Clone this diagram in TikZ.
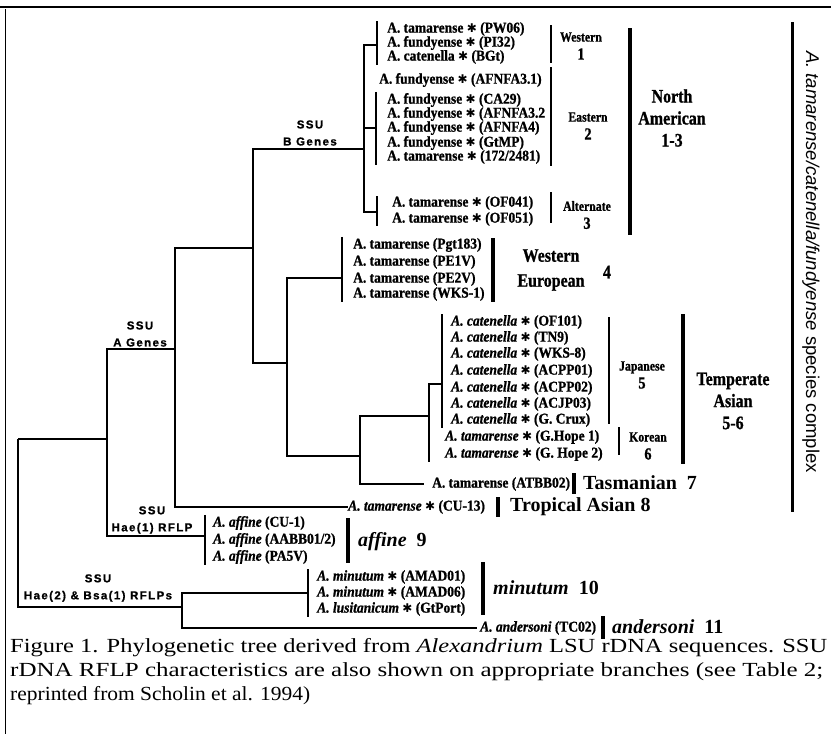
\documentclass[tikz,border=0pt]{standalone}
\usepackage{fontspec}
\setmainfont{Liberation Serif}
\setsansfont{Liberation Sans}
\newfontfamily\symfont{DejaVu Sans}
\newfontfamily\cfont[FakeStretch=0.84,FakeBold=1]{Liberation Serif}
\newfontfamily\lfont[FakeStretch=0.9,FakeBold=1]{Liberation Serif}
\newfontfamily\ssufont[LetterSpace=12,FakeBold=1]{Liberation Sans}
\newcommand{\sst}{{\symfont\bfseries\fontsize{12}{12}\selectfont ✱}}
\usetikzlibrary{positioning}

\tikzset{
  leaf/.style={anchor=west, inner sep=0pt, font=\lfont\bfseries\fontsize{15}{15}\selectfont},
  branch/.style={line width=1.5pt},
  thinbar/.style={line width=1.4pt},
  thickbar/.style={line width=3.5pt},
  fatbar/.style={line width=4.5pt},
  ssu/.style={inner sep=0pt, align=center, font=\ssufont\bfseries\fontsize{11.5}{17}\selectfont},
  grp/.style={inner sep=0pt, align=center, font=\cfont\bfseries\fontsize{14}{18}\selectfont},
  region/.style={inner sep=0pt, align=center, font=\cfont\bfseries\fontsize{19}{22}\selectfont},
  big/.style={inner sep=0pt, anchor=west, font=\fontsize{20}{22}\selectfont\bfseries},
  captext/.style={inner sep=0pt, anchor=west, font=\fontsize{20}{24}\selectfont},
}

\begin{document}
\begin{tikzpicture}[x=1pt,y=-1pt]
  \useasboundingbox (0,0) rectangle (831,734);

  % page frame
  \draw[line width=2.5pt] (0,7) -- (831,7);
  \draw[line width=0.6pt] (5,9) -- (5,734);

  % inner nodes (x of vertical, y of incoming branch)
  \coordinate (R)  at (18,439);
  \coordinate (A1) at (107,439);
  \coordinate (A2) at (175,349);
  \coordinate (B0) at (253,248);
  \coordinate (B)  at (364,149);
  \coordinate (W)  at (377,45);
  \coordinate (E)  at (376,128);
  \coordinate (Al) at (377,212);
  \coordinate (WT) at (287,363);
  \coordinate (WE) at (342,278);
  \coordinate (T)  at (360,456);
  \coordinate (JK) at (429,416);
  \coordinate (J)  at (442,384);
  \coordinate (AF) at (205,536);
  \coordinate (H2) at (182,607);
  \coordinate (M)  at (308,593);

  % leaves
  \node[leaf] (w1) at (387,29) {A. tamarense \sst{} (PW06)};
  \node[leaf] (w2) at (387,43) {A. fundyense \sst{} (PI32)};
  \node[leaf] (w3) at (387,57) {A. catenella \sst{} (BGt)};
  \node[leaf] (e0) at (379,80) {A. fundyense \sst{} (AFNFA3.1)};
  \node[leaf] (e1) at (387,100) {A. fundyense \sst{} (CA29)};
  \node[leaf] (e2) at (387,114) {A. fundyense \sst{} (AFNFA3.2};
  \node[leaf] (e3) at (387,128) {A. fundyense \sst{} (AFNFA4)};
  \node[leaf] (e4) at (387,143) {A. fundyense \sst{} (GtMP)};
  \node[leaf] (e5) at (387,157) {A. tamarense \sst{} (172/2481)};
  \node[leaf] (a1) at (392,203) {A. tamarense \sst{} (OF041)};
  \node[leaf] (a2) at (392,219) {A. tamarense \sst{} (OF051)};
  \node[leaf] (p1) at (353,245) {A. tamarense (Pgt183)};
  \node[leaf] (p2) at (353,262) {A. tamarense (PE1V)};
  \node[leaf] (p3) at (353,279) {A. tamarense (PE2V)};
  \node[leaf] (p4) at (353,294) {A. tamarense (WKS-1)};
  \node[leaf] (j1) at (451,322) {\textit{A. catenella} \sst{} (OF101)};
  \node[leaf] (j2) at (451,338) {\textit{A. catenella} \sst{} (TN9)};
  \node[leaf] (j3) at (451,354) {\textit{A. catenella} \sst{} (WKS-8)};
  \node[leaf] (j4) at (451,371) {\textit{A. catenella} \sst{} (ACPP01)};
  \node[leaf] (j5) at (451,388) {\textit{A. catenella} \sst{} (ACPP02)};
  \node[leaf] (j6) at (451,404) {\textit{A. catenella} \sst{} (ACJP03)};
  \node[leaf] (j7) at (451,420) {\textit{A. catenella} \sst{} (G. Crux)};
  \node[leaf] (k1) at (445,437) {\textit{A. tamarense} \sst{} (G.Hope 1)};
  \node[leaf] (k2) at (445,454) {\textit{A. tamarense} \sst{} (G. Hope 2)};
  \node[leaf] (tb) at (432,484) {A. tamarense (ATBB02)};
  \node[leaf] (cu) at (348,507) {\textit{A. tamarense} \sst{} (CU-13)};
  \node[leaf] (f1) at (213,523) {\textit{A. affine} (CU-1)};
  \node[leaf] (f2) at (213,540) {\textit{A. affine} (AABB01/2)};
  \node[leaf] (f3) at (213,557) {\textit{A. affine} (PA5V)};
  \node[leaf] (m1) at (317,577) {\textit{A. minutum} \sst{} (AMAD01)};
  \node[leaf] (m2) at (317,593) {\textit{A. minutum} \sst{} (AMAD06)};
  \node[leaf] (m3) at (317,609) {\textit{A. lusitanicum} \sst{} (GtPort)};
  \node[leaf] (an) at (480,628) {\textit{A. andersoni} (TC02)};

  % branches
  \draw[branch] (R) -- (A1);
  \draw[branch] (R) |- (H2);
  \draw[branch] (A1) |- (A2);
  \draw[branch] (A1) |- (AF);
  \draw[branch] (A2) |- (B0);
  \draw[branch] (A2) |- (cu.west);
  \draw[branch] (B0) |- (B);
  \draw[branch] (B0) |- (WT);
  \draw[branch] (B) |- (W);
  \draw[branch] (B) |- (E);
  \draw[branch] (B) |- (Al);
  \draw[branch] (WT) |- (WE);
  \draw[branch] (WT) |- (T);
  \draw[branch] (T) |- (JK);
  \draw[branch] (T) |- ([xshift=-8pt]tb.west);
  \draw[branch] (JK) |- (J);
  \draw[branch] (H2) |- (M);
  \draw[branch] (H2) |- ([xshift=-3pt]an.west);

  % leaf bars
  \draw[branch] ([yshift=1pt]W |- w1.north) -- ([yshift=-1pt]W |- w3.south);
  \draw[branch] ([yshift=1pt]E |- e1.north) -- ([yshift=-1pt]E |- e5.south);
  \draw[branch] (Al |- a1.north) -- (Al |- a2.south);
  \draw[branch] ([yshift=1pt]WE |- p1.north) -- ([yshift=-1pt]WE |- p4.south);
  \draw[branch] ([yshift=1pt]J |- j1.north) -- ([yshift=-1pt]J |- j7.south);
  \draw[branch] (J -| JK) -- ([yshift=-1pt]JK |- k2.south);
  \draw[branch] ([yshift=1pt]AF |- f1.north) -- ([yshift=-1pt]AF |- f3.south);
  \draw[branch] ([yshift=1pt]M |- m1.north) -- ([yshift=-1pt]M |- m3.south);

  % restriction site labels
  \node[ssu] (sB) at (310,133) {SSU\\B Genes};
  \node[ssu] (sA) at (140,334) {SSU\\A Genes};
  \node[ssu] (sH1) at (152,520) {SSU\\Hae(1) RFLP};
  \node[ssu] (sH2) at (98,588) {SSU\\Hae(2) \& Bsa(1) RFLPs};

  % group brackets
  \draw[thinbar] (551,25) -- (551,63);
  \draw[thinbar] (551,67) -- (551,166);
  \draw[thinbar] (551,192) -- (551,223);
  \draw[thickbar] (630,28) -- (630,235);
  \draw[thickbar] (493,238) -- (493,302);
  \draw[thinbar] (609,317) -- (609,424);
  \draw[thinbar] (619,427) -- (619,455);
  \draw[thickbar] (683,314) -- (683,464);
  \draw[fatbar] (574,473) -- (574,494);
  \draw[fatbar] (498,497) -- (498,517);
  \draw[fatbar] (348,518) -- (348,563);
  \draw[fatbar] (483,562) -- (483,615);
  \draw[fatbar] (603,616) -- (603,639);
  \draw[line width=3pt] (792,22) -- (792,512);

  % group names
  \node[grp] (gW) at (581,46) {Western\\\fontsize{17}{17}\selectfont 1};
  \node[grp] (gE) at (588,126) {Eastern\\\fontsize{17}{17}\selectfont 2};
  \node[grp] (gA) at (587,215) {Alternate\\\fontsize{17}{17}\selectfont 3};
  \node[region] (gNA) at (672,118) {North\\American\\1-3};
  \node[region] (gWE) at (551,270) {Western\\[3pt]European};
  \node[region] (g4) at (607,272) {4};
  \node[grp] (gJ) at (642,375) {Japanese\\\fontsize{17}{17}\selectfont 5};
  \node[grp] (gK) at (648,446) {Korean\\\fontsize{17}{17}\selectfont 6};
  \node[region] (gTA) at (733,401) {Temperate\\Asian\\5-6};
  \node[big] (gT) at (583,483) {Tasmanian~~7};
  \node[big] (gTr) at (510,507) {Tropical Asian~8};
  \node[big] (gaf) at (358,542) {\textit{affine}~~9};
  \node[big] (gmi) at (493,588) {\textit{minutum}~~10};
  \node[big] (gan) at (612,627) {\textit{andersoni}~~11};
  \node[rotate=-90, inner sep=0pt, font=\sffamily\fontsize{18.5}{20}\selectfont] (gSC) at (811,262)
    {\textit{A. tamarense/catenella/fundyense} species complex};

  % caption
  \node[captext] (c1) at (10,648) {\resizebox{817pt}{\height}{Figure 1. Phylogenetic tree derived from \textit{Alexandrium} LSU rDNA sequences. SSU}};
  \node[captext] (c2) at (10,672) {\resizebox{813pt}{\height}{rDNA RFLP characteristics are also shown on appropriate branches (see Table 2;}};
  \node[captext] (c3) at (10,696) {\resizebox{300pt}{\height}{reprinted from Scholin et al. 1994)}};
\end{tikzpicture}
\end{document}
